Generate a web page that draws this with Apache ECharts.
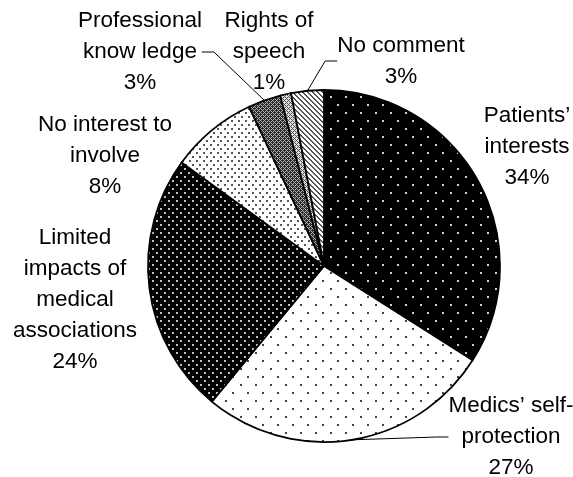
<!DOCTYPE html>
<html>
<head>
<meta charset="utf-8">
<script src="https://cdn.jsdelivr.net/npm/echarts@6/dist/echarts.min.js"></script>
<style>
html,body{margin:0;padding:0;background:#fff;}
#chart{width:573px;height:477px;}
</style>
</head>
<body>
<div id="chart"></div>
<script>
// ---- data ----
var categories = [
  'Patients\u2019\ninterests',
  'Medics\u2019 self-\nprotection',
  'Limited\nimpacts of\nmedical\nassociations',
  'No interest to\ninvolve',
  'Professional\nknow ledge',
  'Rights of\nspeech',
  'No comment'
];
var percentValues = [34, 27, 24, 8, 3, 1, 3];
var showLeaderLine = [false, true, false, false, true, false, true];

// ---- label placement (layout only) ----
var labelPos = [
  [527, 147],
  [511, 437],
  [75, 300],
  [105, 156],
  [140, 52],
  [269, 52],
  [401, 61]
];

// ---- pattern tiles ----
function makeTile(w, h, fn) {
  var c = document.createElement('canvas');
  c.width = w; c.height = h;
  var g = c.getContext('2d');
  for (var y = 0; y < h; y++) {
    for (var x = 0; x < w; x++) {
      g.fillStyle = fn(x, y);
      g.fillRect(x, y, 1, 1);
    }
  }
  return c;
}
function dots(w, h, bg, fg) {
  var hx = Math.floor(w / 2), hy = Math.floor(h / 2);
  return makeTile(w, h, function (x, y) {
    var a = (x < 2 && y < 2);
    var b = (x >= hx && x < hx + 2 && y >= hy && y < hy + 2);
    return (a || b) ? fg : bg;
  });
}
var patterns = [
  dots(15, 16, '#000000', '#d0d0d0'),
  dots(15, 16, '#ffffff', '#444444'),
  dots(8, 8, '#000000', '#c0c0c0'),
  dots(7, 8, '#ffffff', '#555555'),
  makeTile(4, 4, function (x, y) { return ((x + y) % 4 === 0 || (x - y + 8) % 4 === 0) ? '#b0b0b0' : '#2a2a2a'; }),
  makeTile(4, 4, function (x, y) { return ((x + y) % 4 === 0 || (x - y + 8) % 4 === 0) ? '#505050' : '#e0e0e0'; }),
  makeTile(5, 5, function (x, y) { return ((x - y + 50) % 5) < 2 ? '#555555' : '#ffffff'; })
];

var seriesData = categories.map(function (name, i) {
  return {
    name: name,
    value: percentValues[i],
    itemStyle: { color: { image: patterns[i], repeat: 'repeat' } },
    labelLine: { show: showLeaderLine[i] }
  };
});

var chart = echarts.init(document.getElementById('chart'), null, { renderer: 'canvas' });
chart.setOption({
  backgroundColor: '#ffffff',
  animation: false,
  series: [{
    type: 'pie',
    center: [324, 266],
    radius: 176,
    startAngle: 90,
    clockwise: true,
    avoidLabelOverlap: false,
    data: seriesData,
    itemStyle: { borderColor: '#000', borderWidth: 1.8 },
    label: {
      show: true,
      position: 'outside',
      formatter: function (p) { return p.name + '\n' + p.value + '%'; },
      color: '#000',
      fontFamily: 'Liberation Sans, Arial, sans-serif',
      fontSize: 22.5,
      lineHeight: 31,
      align: 'center'
    },
    labelLine: {
      length: 20, length2: 12,
      lineStyle: { color: '#000', width: 1 }
    },
    labelLayout: function (params) {
      var p = labelPos[params.dataIndex];
      return { x: p[0], y: p[1], align: 'center', verticalAlign: 'middle' };
    },
    emphasis: { disabled: true }
  }]
});
</script>
</body>
</html>
